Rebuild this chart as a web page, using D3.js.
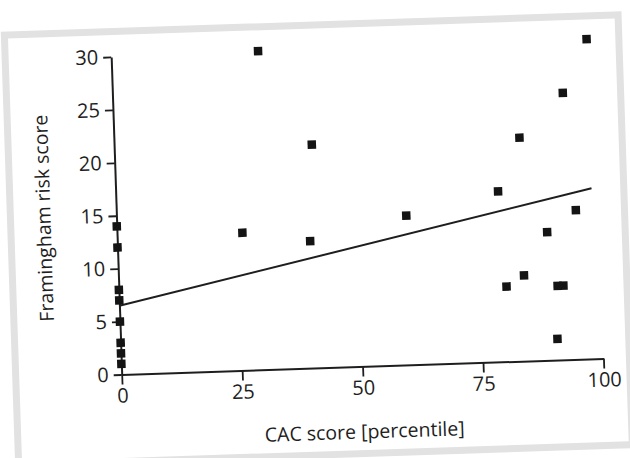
<!DOCTYPE html>
<html>
<head>
<meta charset="utf-8">
<script src="https://cdn.jsdelivr.net/npm/d3@7"></script>
<style>
	body {margin:0; background:#fff;}
	svg text {font-family:"Open Sans", sans-serif; fill:#1e1e1e;}
</style>
</head>
<body>
<svg id="chart" width="630" height="458"></svg>
<script>
/*** Data ***/
var cacPct   = [0, 0, 0, 0, 0, 0, 0, 0, 30.5, 98.7, 93.4, 84.1, 41.0, 79.3, 95.3, 60.1, 26.0, 89.2, 40.0, 84.1, 80.4, 91.0, 92.2, 90.6]
var frsScore = [14, 12, 8, 7, 5, 3, 2, 1, 30.1, 30.2, 25.2, 21.1, 21.1, 16.1, 14.1, 14.1, 13.0, 12.1, 12.0, 8.1, 7.1, 7.0, 7.0, 2.0]
var fitX     = [0, 98.7]
var fitY     = [6.5, 16.1]
var xTicks   = [0, 25, 50, 75, 100]
var yTicks   = [0, 5, 10, 15, 20, 25, 30]
var xTitle   = "CAC score [percentile]"
var yTitle   = "Framingham risk score"

/*** Setup ***/
const W = 482, H = 317.7, TILT = -1.9, SQ = 8.5
var svg = d3.select("#chart")
var x = d3.scaleLinear().domain([0, 100]).range([0, W])
var y = d3.scaleLinear().domain([0, 30]).range([0, -H])

// the scan is slightly rotated, so everything hangs off one tilted group
var g = svg.append("g").attr("transform", "translate(121.7,374.5) rotate(" + TILT + ")")

// greyish page frame of the scan
g.append("rect")
	.attr("x", -106).attr("y", -343)
	.attr("width", 614).attr("height", 430)
	.attr("fill", "none")
	.attr("stroke", "#e2e2e2")
	.attr("stroke-width", 7)

var xAxis = g.append("g")
	.call(d3.axisBottom(x).tickValues(xTicks).tickSize(10).tickSizeOuter(0).tickPadding(4))
var yAxis = g.append("g")
	.call(d3.axisLeft(y).tickValues(yTicks).tickSize(8).tickSizeOuter(0).tickPadding(5))

;[xAxis, yAxis].forEach((a) => {
	a.select(".domain").attr("stroke", "#1e1e1e").attr("stroke-width", 2)
	a.selectAll(".tick line").attr("stroke", "#1e1e1e").attr("stroke-width", 1.8)
	a.selectAll(".tick text").attr("font-size", 20).attr("font-family", "Open Sans").attr("fill", "#1e1e1e")
})

// regression line
g.append("line")
	.attr("x1", x(fitX[0])).attr("y1", y(fitY[0]))
	.attr("x2", x(fitX[1])).attr("y2", y(fitY[1]))
	.attr("stroke", "#1e1e1e")
	.attr("stroke-width", 2)

// points
g.append("g")
	.selectAll("rect")
	.data(cacPct.map((c, i) => ({c: c, f: frsScore[i]})))
	.enter()
	.append("rect")
	.attr("x", (d) => x(d.c) - SQ / 2)
	.attr("y", (d) => y(d.f) - SQ / 2)
	.attr("width", SQ).attr("height", SQ)
	.attr("fill", "#141414")

// axis titles
g.append("text")
	.attr("x", W / 2).attr("y", 72)
	.attr("text-anchor", "middle")
	.attr("font-size", 19.5)
	.text(xTitle)
g.append("text")
	.attr("transform", "translate(-66," + (-H / 2) + ") rotate(-90)")
	.attr("text-anchor", "middle")
	.attr("font-size", 19.5)
	.text(yTitle)
</script>
</body>
</html>
